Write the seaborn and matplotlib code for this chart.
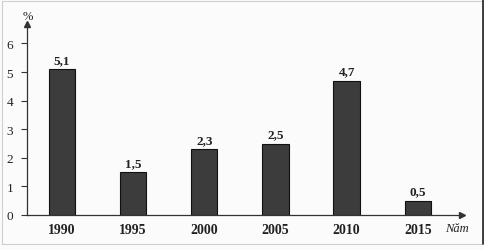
import matplotlib
matplotlib.use("Agg")
import matplotlib.pyplot as plt
import seaborn as sns
import pandas as pd
from matplotlib.patches import Rectangle
from matplotlib.lines import Line2D

years = ["1990", "1995", "2000", "2005", "2010", "2015"]
values = [5.1, 1.5, 2.3, 2.5, 4.7, 0.5]
value_labels = ["5,1", "1,5", "2,3", "2,5", "4,7", "0,5"]
y_ticks = [0, 1, 2, 3, 4, 5, 6]

sns.set_theme(style="white")
plt.rcParams["font.family"] = ["Liberation Serif", "DejaVu Serif"]

df = pd.DataFrame({"year": years, "value": values})

fig = plt.figure(figsize=(4.85, 2.51), dpi=100)
fig.patch.set_facecolor("#fbfbfb")
ax = fig.add_axes([27 / 485, 1 - 216 / 251, (462 - 27) / 485, (216 - 25) / 251])
ax.set_facecolor("none")

sns.barplot(data=df, x="year", y="value", color="#3c3c3c", width=0.37,
            edgecolor="#111111", linewidth=0.8, saturation=1, ax=ax)

ax.set_xlim(-0.49, 5.62)
ax.set_ylim(0, 6.68)
ax.set_yticks(y_ticks)
ax.set_yticklabels([str(t) for t in y_ticks], fontsize=9.5, color="#222222")
ax.set_xticks(range(len(years)))
ax.set_xticklabels(years, fontsize=10, fontweight="bold", color="#222222")
ax.tick_params(axis="y", length=4, width=0.8, color="#333333", pad=6, left=True)
ax.tick_params(axis="x", length=0, pad=6)
ax.set_xlabel("")
ax.set_ylabel("")

for s in ["top", "right"]:
    ax.spines[s].set_visible(False)
for s in ["left", "bottom"]:
    ax.spines[s].set_color("#333333")
    ax.spines[s].set_linewidth(0.9)

# axis arrows
ax.plot(1, 0, ">", transform=ax.transAxes, clip_on=False, color="#333333", markersize=4)
ax.plot(0, 1, "^", transform=ax.transAxes, clip_on=False, color="#333333", markersize=4)

for i, (v, lab) in enumerate(zip(values, value_labels)):
    ax.text(i, v + 0.12, lab, ha="center", va="bottom", fontsize=9.5,
            fontweight="bold", color="#222222")

fig.text(28 / 485, 1 - 17 / 251, "%", ha="center", va="center", fontsize=9, color="#222222")
fig.text(445 / 485, 1 - 229 / 251, "Năm", ha="left", va="center", fontsize=9,
         style="italic", color="#222222")

# scan frame
fig.add_artist(Rectangle((2 / 485, 6 / 251), 481 / 485, 243 / 251, transform=fig.transFigure,
                         fill=False, edgecolor="#cfcfcf", linewidth=0.8))
fig.add_artist(Line2D([483 / 485, 483 / 485], [6 / 251, 1], transform=fig.transFigure,
                      color="#222222", linewidth=1.2))

fig.savefig("out.png", dpi=100, facecolor=fig.get_facecolor())
